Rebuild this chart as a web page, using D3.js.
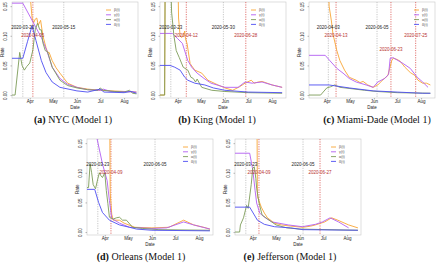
<!DOCTYPE html>
<html>
<head>
<meta charset="utf-8">
<script src="https://cdn.jsdelivr.net/npm/d3@7"></script>
<style>
body { margin: 0; background: #fff; }
svg { display: block; font-family: "Liberation Sans", Arial, sans-serif; }
</style>
</head>
<body>
<div id="chart"></div>
<script>
// series: orange, purple, green, blue
const seriesNames = ["β(t)", "γ(t)", "α(t)", "δ(t)"];
const seriesColors = ["#f8a534", "#b25ff2", "#7d9c58", "#4d4df2"];
const yTickValues = [0, 0.05, 0.10, 0.15];
const monthTicks = ["04-01", "05-01", "06-01", "07-01", "08-01"];
const monthLabels = ["Apr", "May", "Jun", "Jul", "Aug"];

// (a) NYC
const nycOrange = [["03-31",0.3],["04-02",0.16],["04-04",0.13],["04-06",0.122],["04-08",0.128],["04-10",0.13],["04-12",0.118],["04-15",0.126],["04-18",0.1],["04-22",0.08],["04-24",0.072],["04-26",0.072],["04-30",0.058],["05-05",0.046],["05-10",0.037],["05-20",0.02],["06-01",0.013],["06-15",0.01],["07-01",0.008],["07-15",0.007],["08-01",0.006],["08-17",0.005]];
const nycPurple = [["03-09",0.155],["03-23",0.155],["04-16",0.097],["04-23",0.075],["04-30",0.047],["05-10",0.028],["05-20",0.018],["06-01",0.013],["06-15",0.009],["07-01",0.008],["07-05",0.01],["07-15",0.006],["08-05",0.006],["08-17",0.005]];
const nycGreen = [["03-09",0],["03-13",0],["03-19",0.072],["03-22",0.05],["03-25",0.042],["03-28",0.048],["04-01",0.054],["04-05",0.076],["04-08",0.11],["04-11",0.121],["04-14",0.11],["04-16",0.11],["04-18",0.088],["04-21",0.075],["04-24",0.073],["04-27",0.06],["04-30",0.047],["05-10",0.025],["05-20",0.016],["06-01",0.012],["06-15",0.009],["06-28",0.008],["07-01",0.012],["07-05",0.008],["07-20",0.006],["08-01",0.005],["08-08",0.008],["08-12",0.003],["08-17",0.002]];
const nycBlue = [["03-09",0.062],["03-23",0.062],["03-29",0.09],["04-04",0.117],["04-09",0.092],["04-16",0.058],["04-22",0.038],["04-30",0.022],["05-10",0.013],["06-01",0.007],["06-15",0.005],["07-01",0.01],["07-06",0.005],["08-01",0.004],["08-10",0.006],["08-17",0.003]];

// (b) King
const kingOrange = [["03-09",0],["03-15",0],["03-16",0.3],["03-31",0.3],["04-02",0.13],["04-04",0.1],["04-06",0.097],["04-08",0.1],["04-10",0.108],["04-11",0.095],["04-13",0.087],["04-17",0.053],["04-23",0.042],["05-02",0.037],["05-10",0.025],["05-23",0.017],["06-01",0.012],["06-11",0.008],["06-20",0.014],["06-27",0.02],["07-05",0.025],["07-09",0.02],["07-14",0.022],["07-19",0.023],["08-01",0.017],["08-14",0.013]];
const kingPurple = [["03-09",0.104],["03-25",0.104],["04-01",0.095],["04-07",0.087],["04-14",0.058],["04-19",0.047],["04-26",0.037],["05-05",0.028],["05-14",0.02],["06-01",0.013],["06-18",0.013],["06-27",0.022],["07-06",0.02],["07-12",0.021],["07-19",0.022],["08-01",0.017],["08-14",0.013]];
const kingGreen = [["03-09",0],["03-15",0],["03-16",0.3],["03-21",0.3],["03-24",0.14],["03-27",0.1],["03-30",0.075],["04-03",0.063],["04-08",0.047],["04-14",0.042],["04-18",0.03],["04-21",0.028],["04-24",0.022],["04-26",0.027],["05-02",0.013],["05-15",0.008],["06-01",0.006],["07-01",0.004],["08-14",0.003]];
const kingBlue = [["03-09",0.05],["03-22",0.05],["03-28",0.047],["04-04",0.042],["04-10",0.03],["04-14",0.025],["04-23",0.02],["05-06",0.017],["05-17",0.012],["06-01",0.008],["07-01",0.005],["08-14",0.004]];

// (c) Miami-Dade
const miamiOrange = [["04-02",0.3],["04-04",0.15],["04-07",0.125],["04-09",0.103],["04-14",0.075],["04-18",0.058],["04-24",0.042],["04-30",0.03],["05-09",0.025],["05-14",0.021],["05-18",0.023],["05-24",0.017],["05-31",0.013],["06-06",0.017],["06-12",0.025],["06-19",0.033],["06-24",0.058],["06-26",0.062],["07-01",0.06],["07-05",0.057],["07-11",0.047],["07-18",0.038],["07-24",0.033],["07-28",0.025],["08-03",0.02],["08-08",0.02],["08-13",0.017]];
const miamiPurple = [["03-09",0.067],["03-30",0.067],["04-05",0.058],["04-14",0.045],["04-22",0.037],["04-30",0.028],["05-09",0.022],["05-22",0.017],["05-31",0.013],["06-06",0.022],["06-15",0.028],["06-20",0.035],["06-22",0.062],["06-26",0.063],["07-09",0.053],["07-18",0.045],["07-27",0.03],["08-03",0.022],["08-10",0.013]];
const miamiGreen = [["03-09",0],["03-24",0],["04-01",0.012],["04-06",0.014],["04-11",0.017],["04-18",0.013],["05-01",0.011],["05-20",0.008],["06-05",0.006],["07-01",0.004],["08-13",0.003]];
const miamiBlue = [["03-09",0.017],["04-04",0.017],["04-30",0.012],["05-31",0.007],["07-01",0.005],["08-03",0.003],["08-13",0.003]];

// (d) Orleans
const orlOrange = [["04-07",0.3],["04-08",0.066],["04-10",0.03],["04-12",0.02],["04-20",0.02],["04-26",0.015],["05-10",0.008],["06-01",0.007],["06-23",0.008],["07-12",0.02],["07-25",0.012],["08-07",0.008],["08-15",0.005]];
const orlPurple = [["03-09",0.2],["03-15",0.2],["03-29",0.115],["04-04",0.087],["04-07",0.053],["04-10",0.023],["04-20",0.015],["05-03",0.008],["06-01",0.006],["06-20",0.007],["07-12",0.017],["07-25",0.012],["08-15",0.005]];
const orlGreen = [["03-09",0.075],["03-11",0.075],["03-13",0.115],["03-15",0.1],["03-17",0.08],["03-20",0.073],["03-23",0.09],["03-25",0.1],["03-27",0.095],["03-29",0.092],["04-01",0.1],["04-03",0.07],["04-05",0.048],["04-07",0.025],["04-12",0.022],["04-16",0.024],["04-20",0.025],["04-24",0.02],["04-29",0.02],["05-07",0.008],["05-20",0.006],["06-10",0.004],["08-15",0.003]];
const orlBlue = [["03-09",0.072],["03-19",0.072],["03-24",0.05],["03-29",0.033],["04-07",0.02],["04-20",0.012],["05-03",0.008],["05-12",0.005],["06-01",0.003],["08-15",0.002]];

// (e) Jefferson
const jefOrange = [["04-06",0.3],["04-07",0.06],["04-12",0.042],["04-16",0.032],["04-20",0.024],["04-29",0.015],["05-08",0.012],["05-20",0.01],["06-05",0.008],["06-15",0.01],["06-21",0.012],["07-03",0.017],["07-12",0.024],["07-20",0.02],["08-03",0.012],["08-15",0.007]];
const jefPurple = [["03-09",0.133],["03-28",0.133],["04-01",0.105],["04-04",0.07],["04-06",0.049],["04-10",0.032],["04-16",0.025],["04-26",0.017],["05-17",0.012],["06-04",0.009],["06-21",0.013],["06-30",0.017],["07-10",0.024],["07-21",0.017],["08-03",0.007]];
const jefGreen = [["03-09",0],["03-15",0],["03-16",0.012],["03-20",0.024],["03-24",0.045],["03-26",0.04],["03-30",0.08],["04-01",0.108],["04-03",0.11],["04-05",0.09],["04-06",0.074],["04-09",0.05],["04-13",0.029],["04-17",0.025],["04-20",0.022],["05-01",0.012],["05-15",0.007],["06-01",0.005],["08-15",0.003]];
const jefBlue = [["03-09",0.042],["03-28",0.042],["04-07",0.02],["04-16",0.013],["04-29",0.009],["05-20",0.007],["06-05",0.004],["08-15",0.003]];

const panels = [
    { tag: "(a)", name: "NYC", series: [nycOrange, nycPurple, nycGreen, nycBlue], gray: ["03-23", "05-15"], red: ["04-05"], redLow: [] },
    { tag: "(b)", name: "King", series: [kingOrange, kingPurple, kingGreen, kingBlue], gray: ["03-23", "05-30"], red: ["04-12", "06-28"], redLow: [] },
    { tag: "(c)", name: "Miami-Dade", series: [miamiOrange, miamiPurple, miamiGreen, miamiBlue], gray: ["04-03", "06-05"], red: ["04-13", "06-23", "07-25"], redLow: ["06-23"] },
    { tag: "(d)", name: "Orleans", series: [orlOrange, orlPurple, orlGreen, orlBlue], gray: ["03-23", "06-05"], red: ["04-09"], redLow: [] },
    { tag: "(e)", name: "Jefferson", series: [jefOrange, jefPurple, jefGreen, jefBlue], gray: ["03-23", "06-05"], red: ["04-09", "06-27"], redLow: [] }
];

// where each panel sits on the page
const layout = [
    { x: 0, y: 0, legendX: 106, captionX: 73 },
    { x: 148, y: 0, legendX: 103, captionX: 69 },
    { x: 297, y: 0, legendX: 117, captionX: 80 },
    { x: 75, y: 137, legendX: 108, captionX: 66 },
    { x: 223, y: 137, legendX: 108, captionX: 67 }
];

const parse = d3.timeParse("%Y-%m-%d");
const day = s => parse("2020-" + s);

const width = 440, height = 266;
const plot = { left: 12, right: 138, top: 2, bottom: 98 };

const svg = d3.select("#chart").append("svg")
    .attr("width", width)
    .attr("height", height);

const x = d3.scaleTime()
    .domain([day("03-09"), day("08-19")])
    .range([plot.left, plot.right]);

const y = d3.scaleLinear()
    .domain([-0.005, 0.157])
    .range([plot.bottom, plot.top]);

const line = d3.line()
    .x(d => x(day(d[0])))
    .y(d => y(d[1]));

svg.append("defs").append("clipPath")
    .attr("id", "plotclip")
    .append("rect")
    .attr("x", plot.left)
    .attr("y", plot.top)
    .attr("width", plot.right - plot.left)
    .attr("height", plot.bottom - plot.top);

panels.forEach(function (p, i) {
    const pos = layout[i];
    const g = svg.append("g").attr("transform", "translate(" + pos.x + "," + pos.y + ")");

    g.append("rect")
        .attr("x", plot.left).attr("y", plot.top)
        .attr("width", plot.right - plot.left)
        .attr("height", plot.bottom - plot.top)
        .attr("fill", "none")
        .attr("stroke", "#c8c8c8")
        .attr("stroke-width", 0.6);

    // change point lines
    p.gray.forEach(function (dt) {
        g.append("line")
            .attr("x1", x(day(dt))).attr("x2", x(day(dt)))
            .attr("y1", plot.top).attr("y2", plot.bottom)
            .attr("stroke", "#b0b0b0").attr("stroke-width", 0.7)
            .attr("stroke-dasharray", "1.2,1.2");
    });
    p.red.forEach(function (dt) {
        g.append("line")
            .attr("x1", x(day(dt))).attr("x2", x(day(dt)))
            .attr("y1", plot.top).attr("y2", plot.bottom)
            .attr("stroke", "#d9534f").attr("stroke-width", 0.8)
            .attr("stroke-dasharray", "1.2,1.2");
    });

    const lines = g.append("g").attr("clip-path", "url(#plotclip)");
    p.series.forEach(function (s, k) {
        lines.append("path")
            .datum(s)
            .attr("fill", "none")
            .attr("stroke", seriesColors[k])
            .attr("stroke-width", 0.9)
            .attr("stroke-linejoin", "round")
            .attr("d", line);
    });

    p.gray.forEach(function (dt) {
        g.append("text")
            .attr("x", x(day(dt))).attr("y", y(0.114))
            .attr("dy", "0.35em")
            .attr("text-anchor", "middle")
            .attr("font-size", 4.5)
            .attr("fill", "#222")
            .text("2020-" + dt);
    });
    p.red.forEach(function (dt) {
        const level = p.redLow.includes(dt) ? 0.077 : 0.101;
        g.append("text")
            .attr("x", x(day(dt))).attr("y", y(level))
            .attr("dy", "0.35em")
            .attr("text-anchor", "middle")
            .attr("font-size", 4.5)
            .attr("fill", "#b8312f")
            .text("2020-" + dt);
    });

    // legend
    const leg = g.append("g").attr("transform", "translate(" + pos.legendX + ",10)");
    seriesNames.forEach(function (n, k) {
        leg.append("line")
            .attr("x1", 0).attr("x2", 5)
            .attr("y1", k * 4.8).attr("y2", k * 4.8)
            .attr("stroke", seriesColors[k]).attr("stroke-width", 0.9);
        leg.append("text")
            .attr("x", 8).attr("y", k * 4.8)
            .attr("dy", "0.35em")
            .attr("font-size", 3.8)
            .attr("fill", "#555")
            .text(n);
    });

    // axes
    const xAxis = g.append("g")
        .attr("transform", "translate(0," + plot.bottom + ")")
        .call(d3.axisBottom(x)
            .tickValues(monthTicks.map(day))
            .tickFormat((d, j) => monthLabels[j])
            .tickSize(1.5)
            .tickPadding(0.6));
    xAxis.select(".domain").remove();
    xAxis.selectAll("line").attr("stroke", "#777").attr("stroke-width", 0.5);
    xAxis.selectAll("text").attr("font-size", 4.5).attr("font-family", null).attr("fill", "#222");

    const yAxis = g.append("g")
        .attr("transform", "translate(" + plot.left + ",0)")
        .call(d3.axisLeft(y)
            .tickValues(yTickValues)
            .tickFormat(d3.format(".2f"))
            .tickSize(1.5));
    yAxis.select(".domain").remove();
    yAxis.selectAll("line").attr("stroke", "#777").attr("stroke-width", 0.5);
    yAxis.selectAll("text")
        .attr("x", null)
        .attr("dy", "0.35em")
        .attr("text-anchor", "middle")
        .attr("transform", "translate(-6.5,0) rotate(-90)")
        .attr("font-size", 4.5)
        .attr("font-family", null)
        .attr("fill", "#222");

    g.append("text")
        .attr("x", (plot.left + plot.right) / 2)
        .attr("y", 108.5)
        .attr("text-anchor", "middle")
        .attr("font-size", 4.5)
        .attr("fill", "#222")
        .text("Date");

    g.append("text")
        .attr("transform", "translate(2.8," + y(0.072) + ") rotate(-90)")
        .attr("dy", "0.35em")
        .attr("text-anchor", "middle")
        .attr("font-size", 4.5)
        .attr("fill", "#222")
        .text("Rate");

    const cap = g.append("text")
        .attr("x", pos.captionX)
        .attr("y", 122.5)
        .attr("text-anchor", "middle")
        .attr("font-family", "'Liberation Serif', 'DejaVu Serif', serif")
        .attr("font-size", 10)
        .attr("fill", "#111");
    cap.append("tspan").attr("font-weight", "bold").text(p.tag);
    cap.append("tspan").text(" " + p.name + " (Model 1)");
});
</script>
</body>
</html>
